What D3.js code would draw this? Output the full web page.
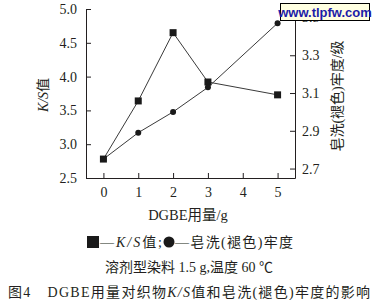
<!DOCTYPE html>
<html>
<head>
<meta charset="utf-8">
<script src="https://cdn.jsdelivr.net/npm/d3@7"></script>
<style>
body { margin: 0; background: #fff; }
text { font-family: "Liberation Serif", "Times New Roman", "Noto Sans CJK SC", serif; fill: #231f20; }
</style>
</head>
<body>
<div id="chart"></div>
<script>
// data
const dosage = [0, 1, 2, 3, 5];
const ksValue = [2.78, 3.64, 4.65, 3.92, 3.73];
const fastness = [2.75, 2.89, 3.0, 3.13, 3.47];

const xTicks = [0, 1, 2, 3, 4, 5];
const leftTicks = [2.5, 3.0, 3.5, 4.0, 4.5, 5.0];
const rightTicks = [2.7, 2.9, 3.1, 3.3, 3.5];

const width = 374, height = 300;
const plot = { left: 86, right: 295, top: 9, bottom: 178 };

const x = d3.scaleLinear().domain([-0.5, 5.5]).range([plot.left, plot.right]);
const yL = d3.scaleLinear().domain([2.5, 5.0]).range([plot.bottom, plot.top]);
const yR = d3.scaleLinear().domain([2.65, 3.545]).range([plot.bottom, plot.top]);

const svg = d3.select("#chart").append("svg").attr("width", width).attr("height", height);

const ink = "#231f20";

// axes
const fmt = d3.format(".1f");
const gL = svg.append("g").attr("transform", `translate(${plot.left},0)`)
    .call(d3.axisLeft(yL).tickValues(leftTicks).tickFormat(fmt).tickSizeInner(-5).tickSizeOuter(0).tickPadding(9));
const gR = svg.append("g").attr("transform", `translate(${plot.right},0)`)
    .call(d3.axisRight(yR).tickValues(rightTicks).tickFormat(fmt).tickSizeInner(-5).tickSizeOuter(0).tickPadding(7));
const gB = svg.append("g").attr("transform", `translate(0,${plot.bottom})`)
    .call(d3.axisBottom(x).tickValues(xTicks).tickFormat(d3.format("d")).tickSizeInner(-5).tickSizeOuter(0).tickPadding(9));

[gL, gR, gB].forEach(g => {
    g.selectAll("path, line").attr("stroke", ink).attr("stroke-width", 1);
    g.selectAll("text").attr("font-size", 14).attr("font-family", null).attr("fill", ink);
});

// lines
const lineKS = d3.line().x((d, i) => x(dosage[i])).y(d => yL(d));
const lineF = d3.line().x((d, i) => x(dosage[i])).y(d => yR(d));

svg.append("path").datum(ksValue).attr("d", lineKS)
    .attr("fill", "none").attr("stroke", "#3a3a3a").attr("stroke-width", 1);
svg.append("path").datum(fastness).attr("d", lineF)
    .attr("fill", "none").attr("stroke", "#3a3a3a").attr("stroke-width", 1);

// markers
svg.selectAll(".sq").data(ksValue).enter().append("rect")
    .attr("x", (d, i) => x(dosage[i]) - 3.5)
    .attr("y", d => yL(d) - 3.5)
    .attr("width", 7).attr("height", 7)
    .attr("fill", "#1a1a1a");

svg.selectAll(".dot").data(fastness).enter().append("circle")
    .attr("cx", (d, i) => x(dosage[i]))
    .attr("cy", d => yR(d))
    .attr("r", 3)
    .attr("fill", "#1a1a1a");

// axis titles
const ylab = svg.append("text")
    .attr("transform", "translate(43,95) rotate(-90)")
    .attr("text-anchor", "middle").attr("dominant-baseline", "central")
    .attr("font-size", 14);
ylab.append("tspan").attr("font-style", "italic").text("K/S");
ylab.append("tspan").text("值");

svg.append("text")
    .attr("transform", "translate(337,96) rotate(-90)")
    .attr("text-anchor", "middle").attr("dominant-baseline", "central")
    .attr("font-size", 14)
    .text("皂洗(褪色)牢度/级");

svg.append("text")
    .attr("x", 188).attr("y", 220)
    .attr("text-anchor", "middle").attr("font-size", 14.5)
    .text("DGBE用量/g");

// legend
svg.append("rect").attr("x", 87).attr("y", 236).attr("width", 12).attr("height", 12).attr("fill", "#1a1a1a");
const leg1 = svg.append("text").attr("x", 100).attr("y", 247).attr("font-size", 14)
    .attr("textLength", 62).attr("lengthAdjust", "spacing");
leg1.append("tspan").text("—");
leg1.append("tspan").attr("font-style", "italic").text("K/S");
leg1.append("tspan").text("值;");
svg.append("circle").attr("cx", 169).attr("cy", 242).attr("r", 5.5).attr("fill", "#1a1a1a");
svg.append("text").attr("x", 175).attr("y", 247).attr("font-size", 14)
    .attr("textLength", 118).attr("lengthAdjust", "spacing")
    .text("—皂洗(褪色)牢度");

// notes
svg.append("text").attr("x", 189).attr("y", 272)
    .attr("text-anchor", "middle").attr("font-size", 14)
    .text("溶剂型染料 1.5 g,温度 60 ℃");

const cap = svg.append("text").attr("x", 8).attr("y", 297).attr("font-size", 14)
    .attr("textLength", 362).attr("lengthAdjust", "spacing");
cap.append("tspan").text("图4");
cap.append("tspan").attr("dx", 16).text("DGBE用量对织物");
cap.append("tspan").attr("font-style", "italic").text("K/S");
cap.append("tspan").text("值和皂洗(褪色)牢度的影响");

// watermark box
svg.append("rect").attr("x", 280.5).attr("y", 3.5).attr("width", 89).attr("height", 17)
    .attr("fill", "#ffffe1").attr("stroke", "#000").attr("stroke-width", 1);
svg.append("text").attr("x", 325).attr("y", 16.5)
    .attr("text-anchor", "middle")
    .style("font-family", "'Liberation Sans', Arial, sans-serif")
    .style("font-weight", "bold").style("font-size", "13px").style("fill", "#1c1ca8")
    .text("www.tlpfw.com");
</script>
</body>
</html>
